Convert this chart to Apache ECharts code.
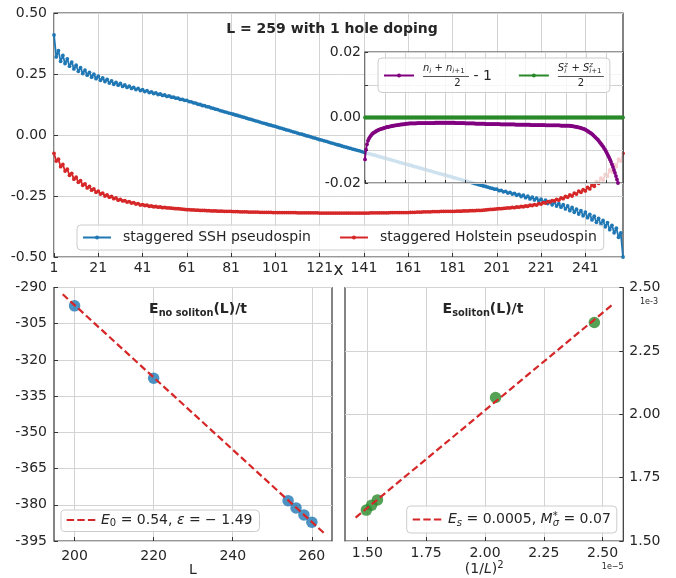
<!DOCTYPE html>
<html>
<head>
<meta charset="utf-8">
<title>L = 259 with 1 hole doping</title>
<script src="https://cdn.jsdelivr.net/npm/echarts@6/dist/echarts.min.js"></script>
<style>
  html, body { margin: 0; padding: 0; background: #ffffff; }
  #chart { width: 676px; height: 578px; }
</style>
</head>
<body>
<div id="chart"></div>
<script>
// ---- site-resolved profiles along the chain (sites 1..258) ----
const sshPseudospin = [
  0.410, 0.320, 0.346, 0.302, 0.326, 0.293, 0.312, 0.282, 0.299, 0.271,
  0.286, 0.261, 0.276, 0.252, 0.266, 0.245, 0.257, 0.237, 0.249, 0.231,
  0.241, 0.224, 0.234, 0.219, 0.228, 0.213, 0.222, 0.208, 0.216, 0.204,
  0.211, 0.199, 0.205, 0.195, 0.200, 0.191, 0.195, 0.186, 0.191, 0.182,
  0.186, 0.178, 0.182, 0.174, 0.177, 0.170, 0.173, 0.166, 0.168, 0.162,
  0.164, 0.158, 0.160, 0.155, 0.155, 0.151, 0.151, 0.146, 0.146, 0.142,
  0.142, 0.137, 0.136, 0.132, 0.131, 0.126, 0.125, 0.121, 0.120, 0.116,
  0.115, 0.111, 0.109, 0.106, 0.104, 0.100, 0.098, 0.095, 0.093, 0.090,
  0.088, 0.085, 0.082, 0.080, 0.077, 0.074, 0.072, 0.069, 0.066, 0.064,
  0.061, 0.058, 0.056, 0.053, 0.050, 0.048, 0.045, 0.042, 0.040, 0.037,
  0.035, 0.032, 0.029, 0.027, 0.024, 0.021, 0.019, 0.016, 0.013, 0.011,
  0.008, 0.005, 0.003, 0.000, -0.003, -0.005, -0.008, -0.011, -0.013, -0.016,
  -0.019, -0.021, -0.024, -0.026, -0.029, -0.032, -0.034, -0.037, -0.040, -0.042,
  -0.045, -0.048, -0.050, -0.053, -0.055, -0.058, -0.060, -0.063, -0.065, -0.068,
  -0.071, -0.073, -0.076, -0.078, -0.081, -0.083, -0.086, -0.089, -0.091, -0.094,
  -0.096, -0.099, -0.101, -0.104, -0.106, -0.109, -0.112, -0.114, -0.117, -0.119,
  -0.122, -0.124, -0.127, -0.130, -0.132, -0.135, -0.137, -0.140, -0.142, -0.145,
  -0.147, -0.150, -0.153, -0.155, -0.158, -0.160, -0.163, -0.165, -0.168, -0.170,
  -0.173, -0.176, -0.178, -0.181, -0.183, -0.186, -0.188, -0.191, -0.193, -0.196,
  -0.199, -0.201, -0.204, -0.206, -0.209, -0.211, -0.214, -0.217, -0.219, -0.222,
  -0.222, -0.228, -0.227, -0.233, -0.231, -0.238, -0.235, -0.242, -0.239, -0.247,
  -0.243, -0.252, -0.247, -0.257, -0.251, -0.262, -0.255, -0.266, -0.259, -0.271,
  -0.263, -0.276, -0.267, -0.281, -0.272, -0.286, -0.276, -0.291, -0.281, -0.296,
  -0.285, -0.303, -0.291, -0.310, -0.297, -0.317, -0.304, -0.324, -0.310, -0.331,
  -0.316, -0.339, -0.325, -0.348, -0.333, -0.358, -0.342, -0.367, -0.350, -0.376,
  -0.359, -0.388, -0.370, -0.401, -0.382, -0.419, -0.401, -0.500
];

const holsteinPseudospin = [
  -0.075, -0.107, -0.099, -0.130, -0.121, -0.148, -0.140, -0.165, -0.157, -0.181,
  -0.173, -0.194, -0.187, -0.206, -0.200, -0.217, -0.211, -0.226, -0.221, -0.235,
  -0.230, -0.242, -0.238, -0.250, -0.246, -0.255, -0.252, -0.261, -0.258, -0.267,
  -0.264, -0.270, -0.269, -0.275, -0.273, -0.279, -0.277, -0.283, -0.281, -0.287,
  -0.285, -0.289, -0.288, -0.292, -0.291, -0.294, -0.293, -0.296, -0.295, -0.298,
  -0.297, -0.299, -0.299, -0.300, -0.301, -0.302, -0.302, -0.303, -0.304, -0.305,
  -0.306, -0.306, -0.307, -0.307, -0.308, -0.308, -0.309, -0.309, -0.309, -0.310,
  -0.310, -0.311, -0.311, -0.311, -0.312, -0.312, -0.312, -0.313, -0.313, -0.313,
  -0.313, -0.314, -0.314, -0.314, -0.315, -0.315, -0.315, -0.315, -0.316, -0.316,
  -0.316, -0.316, -0.316, -0.317, -0.317, -0.317, -0.317, -0.317, -0.317, -0.318,
  -0.318, -0.318, -0.318, -0.318, -0.318, -0.318, -0.318, -0.318, -0.318, -0.318,
  -0.319, -0.319, -0.319, -0.319, -0.319, -0.319, -0.319, -0.319, -0.319, -0.319,
  -0.320, -0.320, -0.320, -0.320, -0.320, -0.320, -0.320, -0.320, -0.320, -0.320,
  -0.320, -0.320, -0.320, -0.320, -0.320, -0.320, -0.320, -0.320, -0.320, -0.320,
  -0.320, -0.320, -0.320, -0.319, -0.319, -0.319, -0.319, -0.319, -0.319, -0.319,
  -0.319, -0.319, -0.318, -0.318, -0.318, -0.318, -0.318, -0.318, -0.318, -0.318,
  -0.318, -0.317, -0.317, -0.317, -0.316, -0.316, -0.316, -0.315, -0.315, -0.315,
  -0.315, -0.314, -0.314, -0.314, -0.314, -0.313, -0.313, -0.313, -0.313, -0.313,
  -0.313, -0.313, -0.312, -0.312, -0.312, -0.311, -0.311, -0.311, -0.310, -0.310,
  -0.310, -0.309, -0.309, -0.309, -0.308, -0.307, -0.306, -0.305, -0.305, -0.304,
  -0.303, -0.302, -0.302, -0.301, -0.300, -0.299, -0.299, -0.297, -0.298, -0.295,
  -0.296, -0.293, -0.294, -0.291, -0.292, -0.288, -0.289, -0.285, -0.287, -0.281,
  -0.283, -0.277, -0.279, -0.273, -0.275, -0.269, -0.270, -0.264, -0.267, -0.258,
  -0.261, -0.252, -0.255, -0.246, -0.250, -0.238, -0.242, -0.230, -0.235, -0.224,
  -0.229, -0.215, -0.221, -0.204, -0.210, -0.191, -0.198, -0.177, -0.185, -0.161,
  -0.169, -0.143, -0.151, -0.121, -0.130, -0.099, -0.107, -0.075
];

// (n_i + n_{i+1})/2 - 1 for each bond
const pairDensity = [
  -0.0128, -0.0098, -0.0082, -0.0071, -0.0064, -0.0059, -0.0055, -0.0051, -0.0048, -0.0046,
  -0.0044, -0.0042, -0.0040, -0.0039, -0.0037, -0.0036, -0.0035, -0.0034, -0.0033, -0.0032,
  -0.0031, -0.0030, -0.0029, -0.0029, -0.0028, -0.0027, -0.0027, -0.0026, -0.0025, -0.0025,
  -0.0024, -0.0024, -0.0023, -0.0023, -0.0022, -0.0022, -0.0021, -0.0021, -0.0021, -0.0020,
  -0.0020, -0.0019, -0.0019, -0.0019, -0.0018, -0.0018, -0.0018, -0.0018, -0.0018, -0.0018,
  -0.0018, -0.0018, -0.0017, -0.0017, -0.0017, -0.0017, -0.0017, -0.0017, -0.0017, -0.0017,
  -0.0017, -0.0017, -0.0017, -0.0017, -0.0017, -0.0017, -0.0017, -0.0017, -0.0017, -0.0017,
  -0.0016, -0.0016, -0.0016, -0.0016, -0.0016, -0.0016, -0.0016, -0.0016, -0.0016, -0.0016,
  -0.0016, -0.0016, -0.0016, -0.0016, -0.0016, -0.0016, -0.0016, -0.0016, -0.0016, -0.0016,
  -0.0017, -0.0017, -0.0017, -0.0017, -0.0017, -0.0017, -0.0017, -0.0017, -0.0017, -0.0017,
  -0.0018, -0.0018, -0.0018, -0.0018, -0.0018, -0.0018, -0.0018, -0.0018, -0.0018, -0.0018,
  -0.0019, -0.0019, -0.0019, -0.0019, -0.0019, -0.0019, -0.0019, -0.0019, -0.0019, -0.0019,
  -0.0020, -0.0020, -0.0020, -0.0020, -0.0020, -0.0020, -0.0020, -0.0020, -0.0020, -0.0020,
  -0.0020, -0.0020, -0.0020, -0.0020, -0.0020, -0.0021, -0.0021, -0.0021, -0.0021, -0.0021,
  -0.0021, -0.0021, -0.0021, -0.0021, -0.0021, -0.0021, -0.0021, -0.0021, -0.0021, -0.0021,
  -0.0022, -0.0022, -0.0022, -0.0022, -0.0022, -0.0022, -0.0022, -0.0022, -0.0022, -0.0022,
  -0.0022, -0.0022, -0.0022, -0.0022, -0.0022, -0.0023, -0.0023, -0.0023, -0.0023, -0.0023,
  -0.0023, -0.0023, -0.0023, -0.0023, -0.0023, -0.0023, -0.0023, -0.0023, -0.0023, -0.0023,
  -0.0024, -0.0024, -0.0024, -0.0024, -0.0024, -0.0024, -0.0024, -0.0024, -0.0024, -0.0024,
  -0.0024, -0.0024, -0.0024, -0.0024, -0.0024, -0.0025, -0.0025, -0.0025, -0.0025, -0.0025,
  -0.0025, -0.0025, -0.0025, -0.0025, -0.0025, -0.0026, -0.0026, -0.0027, -0.0027, -0.0028,
  -0.0028, -0.0029, -0.0030, -0.0030, -0.0031, -0.0032, -0.0033, -0.0034, -0.0035, -0.0036,
  -0.0038, -0.0040, -0.0042, -0.0044, -0.0046, -0.0048, -0.0050, -0.0053, -0.0056, -0.0059,
  -0.0062, -0.0065, -0.0068, -0.0072, -0.0076, -0.0080, -0.0084, -0.0088, -0.0093, -0.0098,
  -0.0103, -0.0109, -0.0115, -0.0121, -0.0128, -0.0135, -0.0143, -0.0151, -0.0160, -0.0169,
  -0.0179, -0.0189, -0.0200, -0.0212, -0.0225, -0.0239, -0.0255, -0.0272
];

// (S^z_i + S^z_{i+1})/2 for each bond
const pairSpin = [
  0, 0, 0, 0, 0, 0, 0, 0, 0, 0,  0, 0, 0, 0, 0, 0, 0, 0, 0, 0,
  0, 0, 0, 0, 0, 0, 0, 0, 0, 0,  0, 0, 0, 0, 0, 0, 0, 0, 0, 0,
  0, 0, 0, 0, 0, 0, 0, 0, 0, 0,  0, 0, 0, 0, 0, 0, 0, 0, 0, 0,
  0, 0, 0, 0, 0, 0, 0, 0, 0, 0,  0, 0, 0, 0, 0, 0, 0, 0, 0, 0,
  0, 0, 0, 0, 0, 0, 0, 0, 0, 0,  0, 0, 0, 0, 0, 0, 0, 0, 0, 0,
  0, 0, 0, 0, 0, 0, 0, 0, 0, 0,  0, 0, 0, 0, 0, 0, 0, 0, 0, 0,
  0, 0, 0, 0, 0, 0, 0, 0, 0, 0,  0, 0, 0, 0, 0, 0, 0, 0, 0, 0,
  0, 0, 0, 0, 0, 0, 0, 0, 0, 0,  0, 0, 0, 0, 0, 0, 0, 0, 0, 0,
  0, 0, 0, 0, 0, 0, 0, 0, 0, 0,  0, 0, 0, 0, 0, 0, 0, 0, 0, 0,
  0, 0, 0, 0, 0, 0, 0, 0, 0, 0,  0, 0, 0, 0, 0, 0, 0, 0, 0, 0,
  0, 0, 0, 0, 0, 0, 0, 0, 0, 0,  0, 0, 0, 0, 0, 0, 0, 0, 0, 0,
  0, 0, 0, 0, 0, 0, 0, 0, 0, 0,  0, 0, 0, 0, 0, 0, 0, 0, 0, 0,
  0, 0, 0, 0, 0, 0, 0, 0, 0, 0,  0, 0, 0, 0, 0, 0, 0, 0
];

// ---- finite-size energies ----
const chainLengths      = [200, 220, 254, 256, 258, 260];
const energyNoSoliton   = [-297.6, -327.6, -378.3, -381.3, -384.2, -387.2];
const fitLengths        = [197, 263];
const fitNoSoliton      = [-292.8, -391.6];

const inverseLengthSq   = [2.465e-5, 2.045e-5, 1.543e-5, 1.518e-5, 1.496e-5];
const energySoliton     = [2.362e-3, 2.066e-3, 1.662e-3, 1.641e-3, 1.622e-3];
const fitInverseSq      = [1.450e-5, 2.540e-5];
const fitSoliton        = [1.592e-3, 2.431e-3];

// ---- tick values ----
const siteTicks       = [1, 21, 41, 61, 81, 101, 121, 141, 161, 181, 201, 221, 241];
const profileTicks    = [-0.5, -0.25, 0, 0.25, 0.5];
const insetGridTicks  = [-0.02, -0.01, 0, 0.01, 0.02];
const insetLabelTicks = [-0.02, 0, 0.02];
const lengthTicks     = [200, 220, 240, 260];
const noSolitonTicks  = [-395, -380, -365, -350, -335, -320, -305, -290];
const inverseSqTicks  = [1.5e-5, 1.75e-5, 2.0e-5, 2.25e-5, 2.5e-5];
const solitonTicks    = [1.5e-3, 1.75e-3, 2.0e-3, 2.25e-3, 2.5e-3];

// ---- styling ----
const FONT = 'DejaVu Sans';
const INK = '#262626';
const SPINE = '#333333';
const GRIDC = '#d3d3d3';
const BLUE = '#1f77b4';
const RED = '#d62728';
const PURPLE = '#800080';
const GREEN = '#2a8a2a';

const SSH_NAME = 'staggered SSH pseudospin';
const HOL_NAME = 'staggered Holstein pseudospin';
const DENS_NAME = 'pair density';
const SPIN_NAME = 'pair spin';
const FIT0_NAME = 'fit without soliton';
const FIT1_NAME = 'fit with soliton';

// dashed legend handle for the fitted lines
const DASH_ICON = 'path://M0,0h7.4v2.2h-7.4z M10.6,0h7.4v2.2h-7.4z M21.2,0h7.4v2.2h-7.4z';

const sites = sshPseudospin.map((_, i) => i + 1);
const pairs = (xs, ys) => ys.map((y, i) => [xs[i], y]);

function tickLabel(values, fmt, margin, extra) {
  return Object.assign({
    customValues: values, formatter: fmt, margin: margin,
    color: INK, fontSize: 14, fontFamily: FONT
  }, extra || {});
}
function ticks(values, len) {
  return { show: true, customValues: values, inside: true, length: len || 4,
           lineStyle: { color: SPINE, width: 1 } };
}
const split = { show: true, lineStyle: { color: GRIDC, width: 1 } };
const noLine = { show: false, onZero: false };

function frame(rect, extra) {
  return Object.assign({
    show: true, borderColor: SPINE, borderWidth: 1.2,
    backgroundColor: 'transparent', containLabel: false, outerBoundsMode: 'none'
  }, rect, extra || {});
}

const mathRich = {
  t:    { fontSize: 14, color: INK, fontFamily: FONT, lineHeight: 17 },
  it:   { fontSize: 14, color: INK, fontFamily: FONT, fontStyle: 'italic', lineHeight: 17 },
  sb:   { fontSize: 10, color: INK, fontFamily: FONT, verticalAlign: 'bottom' },
  sbi:  { fontSize: 10, color: INK, fontFamily: FONT, fontStyle: 'italic', verticalAlign: 'bottom' },
  sup0: { fontSize: 10, color: INK, fontFamily: FONT, verticalAlign: 'top', width: 0 }
};

const fracRich = {
  v:    { fontSize: 10, color: INK, fontFamily: FONT, fontStyle: 'italic', lineHeight: 13 },
  op:   { fontSize: 10, color: INK, fontFamily: FONT },
  vs:   { fontSize: 7, color: INK, fontFamily: FONT, fontStyle: 'italic', verticalAlign: 'bottom' },
  vsr:  { fontSize: 7, color: INK, fontFamily: FONT, verticalAlign: 'bottom' },
  vsw:  { fontSize: 7, color: INK, fontFamily: FONT, fontStyle: 'italic', verticalAlign: 'bottom', width: 4 },
  vup:  { fontSize: 7, color: INK, fontFamily: FONT, fontStyle: 'italic', verticalAlign: 'top', width: 0 },
  bar:  { width: 46, height: 1, lineHeight: 3, backgroundColor: '#555555' },
  tail: { fontSize: 14, color: INK, fontFamily: FONT, lineHeight: 3 },
  den:  { fontSize: 10, color: INK, fontFamily: FONT, width: 46, align: 'center', lineHeight: 11 }
};

const legendLabels = {};
legendLabels[DENS_NAME] = '{v|n}{vs|i}{op| + }{v|n}{vs|i}{vsr|+1}\n{bar| }{tail| - 1}\n{den|2}';
legendLabels[SPIN_NAME] = '{v|S}{vup|z}{vsw|i}{op| + }{v|S}{vup|z}{vs|i}{vsr|+1}\n{bar| }\n{den|2}';
legendLabels[FIT0_NAME] = '{it|E}{sb|0}{t| = 0.54, }{it|\u03b5}{t| = \u2212 1.49}';
legendLabels[FIT1_NAME] = '{it|E}{sbi|s}{t| = 0.0005, }{it|M}{sup0|*}{sbi|\u03c3}{t| = 0.07}';

const legendBox = {
  orient: 'horizontal', selectedMode: false,
  backgroundColor: 'rgba(255,255,255,0.8)', borderColor: '#cccccc',
  borderWidth: 1, borderRadius: 4
};

const profileLine = (name, ys, color, xi, yi, z) => ({
  name: name, type: 'line', xAxisIndex: xi, yAxisIndex: yi,
  data: pairs(sites, ys), symbol: 'circle', symbolSize: 3.8, showAllSymbol: true,
  lineStyle: { width: 1.8, color: color }, itemStyle: { color: color },
  z: z, silent: true, animation: false
});

const option = {
  animation: false,
  backgroundColor: '#ffffff',
  textStyle: { fontFamily: FONT, color: INK },
  grid: [
    frame({ left: 54, top: 13, width: 569, height: 244 }, { z: 0 }),
    frame({ left: 365, top: 52, width: 258, height: 131 },
          { z: 3, backgroundColor: 'rgba(255,255,255,0.78)' }),
    frame({ left: 54, top: 287.5, width: 278, height: 253.5 }, { z: 0 }),
    frame({ left: 345, top: 287.5, width: 278.3, height: 253.5 }, { z: 0 })
  ],
  xAxis: [
    { gridIndex: 0, type: 'value', min: 1, max: 258, axisLine: noLine,
      axisTick: ticks(siteTicks), splitLine: split,
      axisLabel: tickLabel(siteTicks, v => String(v), 4),
      name: 'x', nameLocation: 'middle', nameGap: 5, nameMoveOverlap: false,
      nameTextStyle: { fontSize: 17, color: INK, fontFamily: FONT } },
    { gridIndex: 1, type: 'value', min: 1, max: 258, axisLine: noLine, z: 4,
      axisTick: ticks(siteTicks, 3), splitLine: split,
      axisLabel: { show: false } },
    { gridIndex: 2, type: 'value', min: 194.8, max: 265.1, axisLine: noLine,
      axisTick: ticks(lengthTicks), splitLine: split,
      axisLabel: tickLabel(lengthTicks, v => String(v), 8),
      name: 'L', nameLocation: 'middle', nameGap: 22, nameMoveOverlap: false,
      nameTextStyle: { fontSize: 14, color: INK, fontFamily: FONT } },
    { gridIndex: 3, type: 'value', min: 1.405e-5, max: 2.588e-5, axisLine: noLine,
      axisTick: ticks(inverseSqTicks), splitLine: split,
      axisLabel: tickLabel(inverseSqTicks, v => (v * 1e5).toFixed(2), 5),
      name: '(1/{it|L}){sup|2}', nameLocation: 'middle', nameGap: 19, nameMoveOverlap: false,
      nameTextStyle: { fontSize: 14, color: INK, fontFamily: FONT, lineHeight: 18,
        rich: {
          it: { fontSize: 14, fontStyle: 'italic', color: INK, fontFamily: FONT, lineHeight: 18 },
          sup: { fontSize: 10, color: INK, fontFamily: FONT, verticalAlign: 'top' }
        } } }
  ],
  yAxis: [
    { gridIndex: 0, type: 'value', min: -0.5, max: 0.5, axisLine: noLine,
      axisTick: ticks(profileTicks), splitLine: split,
      axisLabel: tickLabel(profileTicks, v => v.toFixed(2), 7) },
    { gridIndex: 1, type: 'value', min: -0.02, max: 0.02, axisLine: noLine, z: 4,
      axisTick: ticks(insetGridTicks, 3), splitLine: split,
      axisLabel: tickLabel(insetLabelTicks, v => v.toFixed(2), 4) },
    { gridIndex: 2, type: 'value', min: -395, max: -290, axisLine: noLine,
      axisTick: ticks(noSolitonTicks), splitLine: split,
      axisLabel: tickLabel(noSolitonTicks, v => String(v), 7) },
    { gridIndex: 3, type: 'value', min: 1.5e-3, max: 2.5e-3, position: 'right', axisLine: noLine,
      axisTick: ticks(solitonTicks), splitLine: split,
      axisLabel: tickLabel(solitonTicks, v => (v * 1e3).toFixed(2), 6) }
  ],
  legend: [
    Object.assign({}, legendBox, {
      data: [SSH_NAME, HOL_NAME], left: 77, top: 225, z: 6,
      itemWidth: 28, itemHeight: 5, itemGap: 28, padding: [5.5, 7, 5.5, 5],
      textStyle: { fontSize: 14, color: INK, fontFamily: FONT, padding: [0, 0, 0, 7] }
    }),
    Object.assign({}, legendBox, {
      data: [DENS_NAME, SPIN_NAME], left: 378, top: 58, z: 8,
      itemWidth: 30, itemHeight: 5, itemGap: 26, padding: [4, 6, 4, 5],
      formatter: n => legendLabels[n],
      textStyle: { fontSize: 10, color: INK, fontFamily: FONT, padding: [0, 0, 0, 4], rich: fracRich }
    }),
    Object.assign({}, legendBox, {
      data: [{ name: FIT0_NAME, icon: DASH_ICON }], left: 61, top: 510, z: 6,
      itemWidth: 30, itemHeight: 2.2, padding: [3, 7, 3, 5.7],
      formatter: n => legendLabels[n],
      textStyle: { fontSize: 14, color: INK, fontFamily: FONT, rich: mathRich }
    }),
    Object.assign({}, legendBox, {
      data: [{ name: FIT1_NAME, icon: DASH_ICON }], left: 406.7, top: 506, z: 6,
      itemWidth: 30, itemHeight: 2.2, padding: [5, 6, 5, 6],
      formatter: n => legendLabels[n],
      textStyle: { fontSize: 14, color: INK, fontFamily: FONT, padding: [0, 0, 0, 1], rich: mathRich }
    })
  ],
  graphic: [
    { type: 'text', x: 332, y: 29, z: 10, silent: true,
      style: { text: 'L = 259 with 1 hole doping', fill: INK, align: 'center', verticalAlign: 'middle',
               font: 'bold 14px "DejaVu Sans"' } },
    { type: 'text', x: 198, y: 309, z: 10, silent: true,
      style: { text: '{b|E}{s|no soliton}{b|(L)/t}', align: 'center', verticalAlign: 'middle',
        rich: {
          b: { fontSize: 14, fontWeight: 'bold', fill: INK, color: INK, fontFamily: FONT, lineHeight: 18 },
          s: { fontSize: 9.8, fontWeight: 'bold', fill: INK, color: INK, fontFamily: FONT, verticalAlign: 'bottom' }
        } } },
    { type: 'text', x: 483, y: 309, z: 10, silent: true,
      style: { text: '{b|E}{s|soliton}{b|(L)/t}', align: 'center', verticalAlign: 'middle',
        rich: {
          b: { fontSize: 14, fontWeight: 'bold', fill: INK, color: INK, fontFamily: FONT, lineHeight: 18 },
          s: { fontSize: 9.8, fontWeight: 'bold', fill: INK, color: INK, fontFamily: FONT, verticalAlign: 'bottom' }
        } } },
    { type: 'text', x: 649, y: 301.5, z: 10, silent: true,
      style: { text: '1e-3', fill: INK, align: 'center', verticalAlign: 'middle',
               font: '8px "DejaVu Sans"' } },
    { type: 'text', x: 612.7, y: 566.5, z: 10, silent: true,
      style: { text: '1e\u22125', fill: INK, align: 'center', verticalAlign: 'middle',
               font: '8px "DejaVu Sans"' } }
  ],
  series: [
    profileLine(SSH_NAME, sshPseudospin, BLUE, 0, 0, 2),
    profileLine(HOL_NAME, holsteinPseudospin, RED, 0, 0, 2),
    profileLine(DENS_NAME, pairDensity, PURPLE, 1, 1, 5),
    profileLine(SPIN_NAME, pairSpin, GREEN, 1, 1, 5),
    { type: 'scatter', xAxisIndex: 2, yAxisIndex: 2, data: pairs(chainLengths, energyNoSoliton),
      symbol: 'circle', symbolSize: 11.5, itemStyle: { color: BLUE }, z: 2, silent: true },
    { name: FIT0_NAME, type: 'line', xAxisIndex: 2, yAxisIndex: 2, data: pairs(fitLengths, fitNoSoliton),
      symbol: 'none', lineStyle: { type: [7, 3.5], width: 2.2, color: RED }, itemStyle: { color: RED },
      z: 3, silent: true },
    { type: 'scatter', xAxisIndex: 3, yAxisIndex: 3, data: pairs(inverseLengthSq, energySoliton),
      symbol: 'circle', symbolSize: 11.5, itemStyle: { color: GREEN }, z: 2, silent: true },
    { name: FIT1_NAME, type: 'line', xAxisIndex: 3, yAxisIndex: 3, data: pairs(fitInverseSq, fitSoliton),
      symbol: 'none', lineStyle: { type: [7, 3.5], width: 2.2, color: RED }, itemStyle: { color: RED },
      z: 3, silent: true }
  ]
};

const chart = echarts.init(document.getElementById('chart'), null, { renderer: 'canvas' });
chart.setOption(option);
</script>
</body>
</html>
